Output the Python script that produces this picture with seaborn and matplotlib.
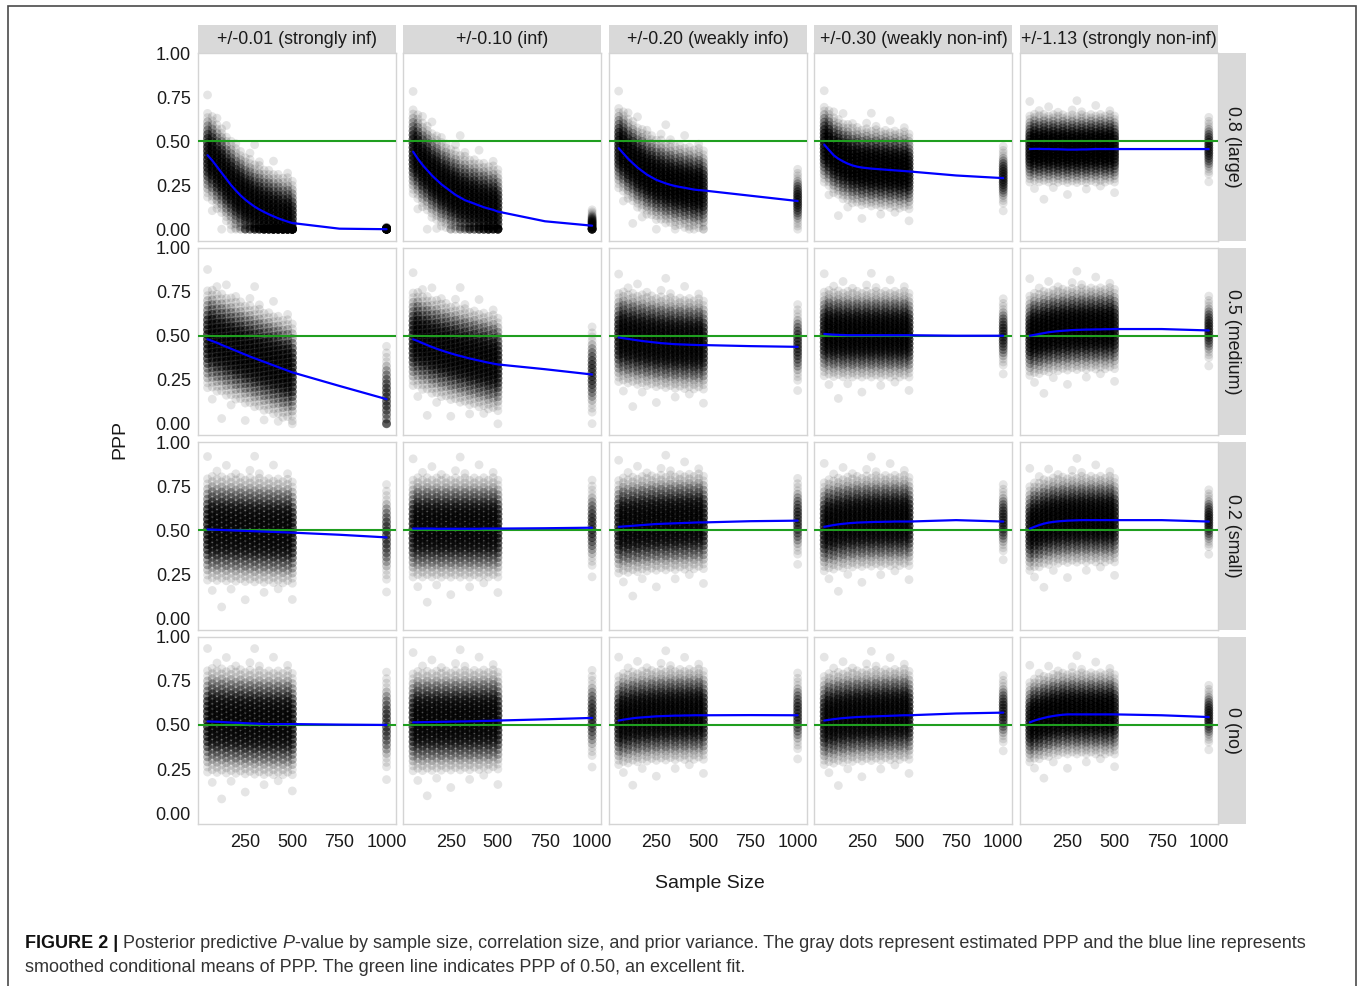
import numpy as np
import pandas as pd
import matplotlib
matplotlib.use("Agg")
import matplotlib.pyplot as plt
from matplotlib.patches import Rectangle
import seaborn as sns

# facet labels
PRIORS = ["+/-0.01 (strongly inf)", "+/-0.10 (inf)", "+/-0.20 (weakly info)",
          "+/-0.30 (weakly non-inf)", "+/-1.13 (strongly non-inf)"]
EFFECTS = ["0.8 (large)", "0.5 (medium)", "0.2 (small)", "0 (no)"]

SAMPLE_SIZES = [50, 75, 100, 125, 150, 175, 200, 225, 250, 275, 300, 325, 350,
                375, 400, 425, 450, 475, 500, 1000]

# centre of the PPP cloud (= smoothed mean) per effect row, per prior column
CENTER_LARGE = [
    [0.42, 0.39, 0.355, 0.32, 0.285, 0.25, 0.22, 0.192, 0.168, 0.147, 0.128, 0.112, 0.098, 0.085, 0.073, 0.062, 0.052, 0.043, 0.035, 0.0],
    [0.44, 0.40, 0.365, 0.335, 0.305, 0.28, 0.255, 0.235, 0.215, 0.195, 0.18, 0.165, 0.155, 0.145, 0.135, 0.125, 0.117, 0.11, 0.10, 0.02],
    [0.46, 0.43, 0.40, 0.375, 0.35, 0.33, 0.31, 0.295, 0.28, 0.27, 0.26, 0.252, 0.245, 0.24, 0.235, 0.23, 0.225, 0.222, 0.22, 0.16],
    [0.48, 0.45, 0.42, 0.40, 0.385, 0.372, 0.362, 0.355, 0.35, 0.347, 0.344, 0.342, 0.34, 0.338, 0.336, 0.334, 0.332, 0.33, 0.328, 0.29],
    [0.455, 0.456, 0.456, 0.455, 0.455, 0.454, 0.454, 0.453, 0.452, 0.452, 0.452, 0.453, 0.453, 0.454, 0.455, 0.455, 0.455, 0.455, 0.455, 0.455],
]
CENTER_MEDIUM = [
    [0.48, 0.47, 0.46, 0.448, 0.437, 0.426, 0.415, 0.404, 0.393, 0.382, 0.372, 0.362, 0.352, 0.342, 0.332, 0.322, 0.312, 0.302, 0.292, 0.14],
    [0.48, 0.47, 0.458, 0.447, 0.436, 0.426, 0.417, 0.408, 0.40, 0.392, 0.385, 0.378, 0.371, 0.365, 0.359, 0.353, 0.347, 0.342, 0.337, 0.28],
    [0.49, 0.486, 0.482, 0.478, 0.474, 0.47, 0.467, 0.464, 0.461, 0.458, 0.456, 0.454, 0.452, 0.451, 0.45, 0.449, 0.448, 0.447, 0.447, 0.437],
    [0.51, 0.508, 0.506, 0.505, 0.504, 0.503, 0.503, 0.503, 0.503, 0.503, 0.503, 0.503, 0.503, 0.503, 0.503, 0.503, 0.503, 0.503, 0.503, 0.50],
    [0.50, 0.505, 0.51, 0.515, 0.52, 0.523, 0.526, 0.528, 0.53, 0.532, 0.533, 0.534, 0.535, 0.535, 0.536, 0.536, 0.537, 0.537, 0.538, 0.53],
]
CENTER_SMALL = [
    [0.505, 0.504, 0.503, 0.502, 0.501, 0.50, 0.499, 0.498, 0.497, 0.496, 0.495, 0.494, 0.493, 0.492, 0.491, 0.49, 0.489, 0.488, 0.487, 0.46],
    [0.51, 0.51, 0.51, 0.51, 0.51, 0.509, 0.509, 0.509, 0.509, 0.509, 0.509, 0.509, 0.509, 0.509, 0.509, 0.51, 0.51, 0.51, 0.51, 0.515],
    [0.52, 0.522, 0.524, 0.526, 0.528, 0.53, 0.532, 0.534, 0.536, 0.537, 0.538, 0.539, 0.54, 0.541, 0.542, 0.543, 0.544, 0.545, 0.545, 0.555],
    [0.52, 0.525, 0.53, 0.534, 0.537, 0.54, 0.542, 0.544, 0.545, 0.546, 0.547, 0.548, 0.548, 0.549, 0.549, 0.55, 0.55, 0.55, 0.55, 0.55],
    [0.51, 0.52, 0.53, 0.538, 0.544, 0.548, 0.551, 0.553, 0.555, 0.556, 0.557, 0.558, 0.558, 0.558, 0.558, 0.558, 0.558, 0.558, 0.558, 0.55],
]
CENTER_NO = [
    [0.52, 0.519, 0.518, 0.517, 0.515, 0.514, 0.513, 0.512, 0.51, 0.509, 0.508, 0.507, 0.506, 0.505, 0.505, 0.505, 0.505, 0.505, 0.505, 0.50],
    [0.515, 0.515, 0.516, 0.516, 0.517, 0.517, 0.518, 0.518, 0.519, 0.519, 0.52, 0.52, 0.521, 0.521, 0.522, 0.523, 0.523, 0.524, 0.525, 0.54],
    [0.525, 0.53, 0.534, 0.538, 0.541, 0.543, 0.545, 0.547, 0.549, 0.55, 0.551, 0.552, 0.553, 0.553, 0.554, 0.554, 0.555, 0.555, 0.555, 0.555],
    [0.525, 0.529, 0.533, 0.536, 0.539, 0.541, 0.543, 0.545, 0.546, 0.547, 0.548, 0.549, 0.55, 0.551, 0.552, 0.553, 0.554, 0.555, 0.555, 0.57],
    [0.515, 0.525, 0.533, 0.54, 0.546, 0.551, 0.555, 0.558, 0.56, 0.56, 0.56, 0.56, 0.56, 0.56, 0.56, 0.56, 0.56, 0.56, 0.56, 0.545],
]
CENTERS = [CENTER_LARGE, CENTER_MEDIUM, CENTER_SMALL, CENTER_NO]

# smoothed mean at n = 750 (no data there, only the blue curve)
BLUE_750 = [
    [0.003, 0.045, 0.19, 0.305, 0.455],
    [0.215, 0.31, 0.441, 0.50, 0.538],
    [0.475, 0.512, 0.552, 0.558, 0.558],
    [0.502, 0.532, 0.556, 0.565, 0.555],
]

# spread of the cloud for n <= 500 and for n = 1000
SPREAD = [
    [0.095, 0.095, 0.09, 0.085, 0.075],
    [0.11, 0.105, 0.10, 0.095, 0.09],
    [0.115, 0.11, 0.105, 0.10, 0.095],
    [0.115, 0.11, 0.10, 0.10, 0.09],
]
SPREAD_1000 = [
    [0.004, 0.03, 0.06, 0.06, 0.06],
    [0.10, 0.09, 0.08, 0.07, 0.065],
    [0.10, 0.09, 0.08, 0.07, 0.06],
    [0.10, 0.09, 0.08, 0.07, 0.06],
]

# replications per standardised offset (shape of the cloud)
Z_OFFSETS = [-2.5, -2.25, -2.0, -1.75, -1.5, -1.25, -1.0, -0.75, -0.5, -0.25, 0.0,
             0.25, 0.5, 0.75, 1.0, 1.25, 1.5, 1.75, 2.0, 2.25, 2.5]
Z_COUNTS = [1, 1, 2, 3, 4, 6, 8, 9, 10, 10, 10, 10, 10, 9, 8, 6, 4, 3, 2, 1, 1]
Z_COUNTS_1000 = [1, 1, 1, 2, 3, 4, 5, 6, 7, 7, 7, 7, 7, 6, 5, 4, 3, 2, 1, 1, 1]
Z_SHIFT = [0.0, 0.125]
# sparse outliers: (column index, offset)
OUTLIERS = [(0, 3.6), (1, -3.0), (2, 2.9), (3, -3.8), (4, 3.2), (5, -2.9), (6, 2.8),
            (8, -3.4), (9, 3.0), (10, 3.7), (11, 2.85), (12, -3.0), (14, 3.3),
            (15, -2.8), (17, 2.9), (18, -3.3), (19, 3.0), (19, -3.1)]


def build_frames():
    cloud, smooth = [], []
    for ei, eff in enumerate(EFFECTS):
        for pi, pr in enumerate(PRIORS):
            centers = CENTERS[ei][pi]
            for k, n in enumerate(SAMPLE_SIZES):
                if n == 1000:
                    sd, counts = SPREAD_1000[ei][pi], Z_COUNTS_1000
                    smooth.append((eff, pr, 750, BLUE_750[ei][pi]))
                else:
                    sd, counts = SPREAD[ei][pi], Z_COUNTS
                shift = Z_SHIFT[k % 2]
                for z, c in zip(Z_OFFSETS, counts):
                    y = float(np.clip(centers[k] + (z + shift) * sd, 0, 1))
                    cloud += [(eff, pr, n, y)] * c
                for kk, z in OUTLIERS:
                    if kk == k:
                        cloud.append((eff, pr, n, float(np.clip(centers[k] + z * sd, 0, 1))))
                smooth.append((eff, pr, n, centers[k]))
    cols = ["effect", "prior", "n", "ppp"]
    return pd.DataFrame(cloud, columns=cols), pd.DataFrame(smooth, columns=cols)


sns.set_style("white")
plt.rcParams["font.family"] = ["Liberation Sans", "DejaVu Sans"]

cloud_df, smooth_df = build_frames()

g = sns.FacetGrid(cloud_df, row="effect", col="prior", row_order=EFFECTS, col_order=PRIORS,
                  height=2, aspect=1.05, despine=False, sharex=True, sharey=True)
g.map_dataframe(sns.scatterplot, x="n", y="ppp", color="black", alpha=0.1, s=40,
                linewidth=0, edgecolor="none")

fig = g.figure
fig.set_size_inches(13.6, 9.86)
fig.subplots_adjust(left=0.1454, right=0.8956, top=0.9462, bottom=0.1638,
                    wspace=0.038, hspace=0.0373)

strip_h = 28 / 187.6
strip_w = 28 / 198.0
for ri, eff in enumerate(EFFECTS):
    for ci, pr in enumerate(PRIORS):
        ax = g.axes[ri, ci]
        ax.axhline(0.5, color="#1f9e1f", lw=1.5, zorder=3)
        sub = smooth_df[(smooth_df.effect == eff) & (smooth_df.prior == pr)].sort_values("n")
        sns.lineplot(data=sub, x="n", y="ppp", color="#0000ff", lw=1.6, ax=ax,
                     estimator=None, sort=True, zorder=4)
        ax.set_title("")
        ax.set_xlabel("")
        ax.set_ylabel("")
        ax.set_xlim(-2, 1049)
        ax.set_ylim(-0.065, 1.0)
        ax.set_xticks([250, 500, 750, 1000])
        ax.set_yticks([0, 0.25, 0.5, 0.75, 1.0])
        for sp in ax.spines.values():
            sp.set_color("#d4d4d4")
            sp.set_linewidth(1.0)
        ax.tick_params(axis="x", length=3 if ri == 3 else 0, width=0.8, color="#333333",
                       labelsize=13, labelcolor="#1a1a1a", pad=3.5)
        ax.tick_params(axis="y", length=3 if ci == 0 else 0, width=0.8, color="#333333",
                       labelsize=13, labelcolor="#1a1a1a", pad=2)
        if ci == 0:
            ax.set_yticklabels(["0.00", "0.25", "0.50", "0.75", "1.00"])
        if ri == 0:
            ax.add_patch(Rectangle((0, 1), 1, strip_h, transform=ax.transAxes, clip_on=False,
                                   facecolor="#d9d9d9", edgecolor="none"))
            ax.text(0.5, 1 + strip_h / 2, pr, transform=ax.transAxes, ha="center",
                    va="center", fontsize=12.9, color="#1a1a1a")
        if ci == 4:
            ax.add_patch(Rectangle((1, 0), strip_w, 1, transform=ax.transAxes, clip_on=False,
                                   facecolor="#d9d9d9", edgecolor="none"))
            ax.text(1 + strip_w / 2, 0.5, eff, transform=ax.transAxes, ha="center",
                    va="center", rotation=-90, fontsize=12.9, color="#1a1a1a")

W, H = 1360, 986
fig.text(120 / W, 1 - 440 / H, "PPP", rotation=90, ha="center", va="center",
         fontsize=14, color="#1a1a1a")
fig.text(710 / W, 1 - 884 / H, "Sample Size", ha="center", va="center",
         fontsize=14, color="#1a1a1a")

# caption, pieced together so bold and italic parts sit inline
renderer = fig.canvas.get_renderer()


def chain(pieces, x_px, y_px):
    x = x_px / W
    for txt, weight, style, color in pieces:
        t = fig.text(x, 1 - y_px / H, txt, ha="left", va="center", fontsize=13,
                     fontweight=weight, fontstyle=style, color=color)
        bb = t.get_window_extent(renderer=renderer)
        x = bb.x1 / (fig.dpi * fig.get_size_inches()[0])


chain([("FIGURE 2 | ", "bold", "normal", "#111111"),
       ("Posterior predictive ", "normal", "normal", "#333333"),
       ("P", "normal", "italic", "#333333"),
       ("-value by sample size, correlation size, and prior variance. The gray dots represent "
        "estimated PPP and the blue line represents", "normal", "normal", "#333333")], 25, 944)
chain([("smoothed conditional means of PPP. The green line indicates PPP of 0.50, an excellent fit.",
        "normal", "normal", "#333333")], 25, 968)

# outer frame of the figure box
fig.add_artist(Rectangle((8 / W, -0.02), (1355.5 - 8) / W, 1.02 - 6 / H,
                         transform=fig.transFigure, fill=False, edgecolor="#4a4a4a", lw=1.2))

fig.savefig("out.png", dpi=100)
